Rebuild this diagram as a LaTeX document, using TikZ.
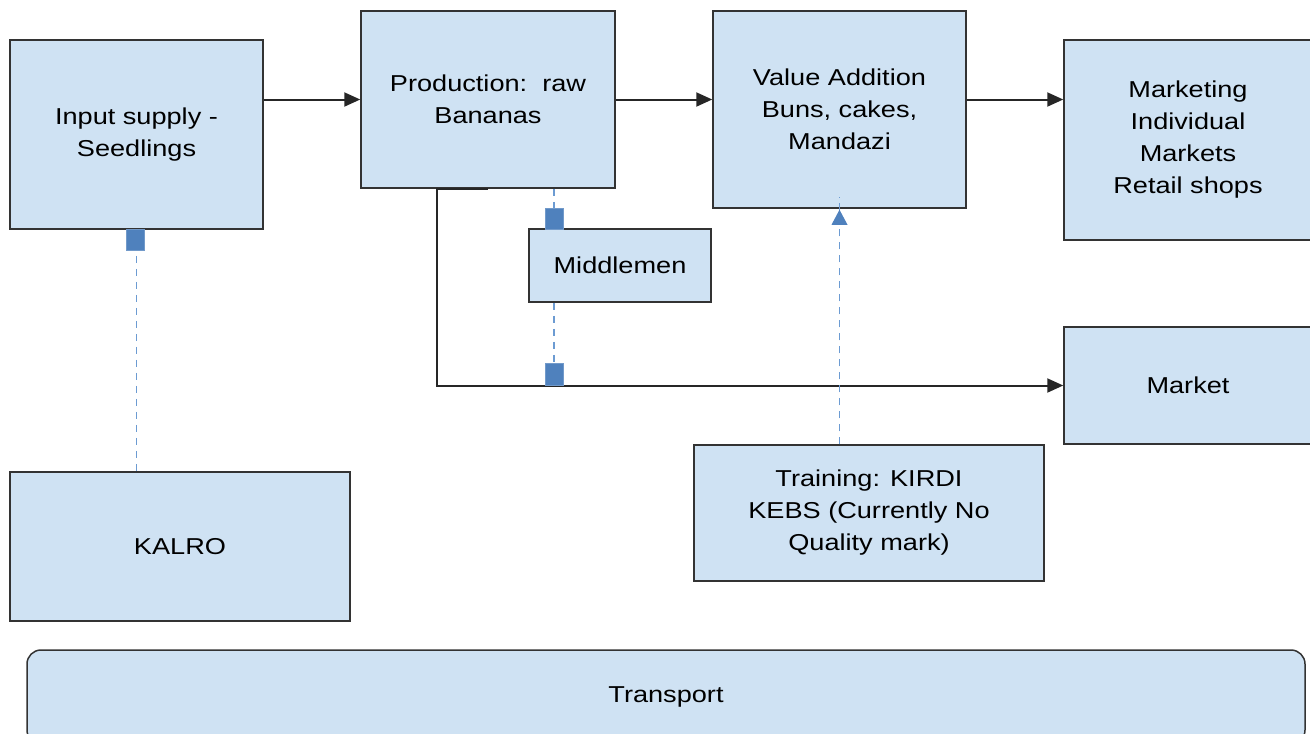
\documentclass[tikz,border=0pt]{standalone}
\usepackage{fontspec}
\setmainfont[FakeStretch=1.18]{Liberation Sans}
\usetikzlibrary{arrows.meta}
\definecolor{boxblue}{RGB}{207,226,243}
\definecolor{sqblue}{RGB}{79,129,189}
\definecolor{dashblue}{RGB}{108,155,210}
\tikzset{
  box/.style={draw=black!80, line width=1.5pt, fill=boxblue, inner sep=0pt, align=center,
    font=\fontsize{23}{32}\selectfont},
  arr/.style={draw=black!85, line width=2pt, -{Triangle[length=16pt,width=14pt]}},
  dashln/.style={draw=dashblue, line width=1.8pt, dash pattern=on 7pt off 6pt},
  sq/.style={fill=sqblue, draw=sqblue!80!white, line width=0.6pt, minimum width=18pt, minimum height=21pt, inner sep=0pt},
}
\begin{document}
\begin{tikzpicture}[x=1pt,y=-1pt]
\useasboundingbox (0,0) rectangle (1310,734);
\clip (0,0) rectangle (1310,734);
\fill[white] (0,0) rectangle (1310,734);
% boxes
\node[box, minimum width=253pt, minimum height=189pt] (inp) at (136.5,134.5) {Input supply -\\Seedlings};
\node[box, minimum width=254pt, minimum height=177pt] (prod) at (488,99.5) {Production:\ \ raw\\Bananas};
\node[box, minimum width=253pt, minimum height=197pt] (val) at (839.5,109.5) {Value Addition\\Buns, cakes,\\Mandazi};
\node[box, minimum width=248pt, minimum height=200pt] (mkt) at (1188,140) {Marketing\\Individual\\Markets\\Retail shops};
\node[box, minimum width=182pt, minimum height=73pt] (mid) at (620,265.5) {Middlemen};
\node[box, minimum width=248pt, minimum height=117pt] (market) at (1188,385.5) {Market};
\node[box, minimum width=350pt, minimum height=136pt] (train) at (869,513) {Training: KIRDI\\KEBS (Currently No\\Quality mark)};
\node[box, minimum width=340pt, minimum height=149pt] (kalro) at (180,546.5) {KALRO};
\node[box, rounded corners=14pt, minimum width=1278pt, minimum height=94pt] (trans) at (666,697) {Transport};
% main arrows
\draw[arr] (inp.east |- prod.west) -- (prod.west);
\draw[arr] (prod.east) -- (prod.east -| val.west);
\draw[arr] (val.east |- prod.east) -- (prod.east -| mkt.west);
\coordinate (bend) at (437,385.5);
\draw[arr] ([yshift=-0.5pt]prod.south) -- ([yshift=-0.5pt]prod.south -| bend) -- (bend) -- (market.west);
% dashed links
\coordinate (d1) at (554,0);
\draw[dashln] (prod.south -| d1) -- (mid.north -| d1);
\draw[dashln] (mid.south -| d1) -- (bend -| d1);
\node[sq] (s2) at (554,218.5) {};
\node[sq, minimum height=22pt] (s3) at (554,374) {};
\draw[dashln] (inp.south) -- (kalro.north -| inp.south);
\node[sq] (s1) at (135,240) {};
\draw[dashln] (train.north -| val.south) -- ([yshift=12pt]val.south);
\fill[sqblue] (val.south) ++(0,1) coordinate (tp) -- ++(-8,15) -- ++(16,0) -- cycle;
\end{tikzpicture}
\end{document}
